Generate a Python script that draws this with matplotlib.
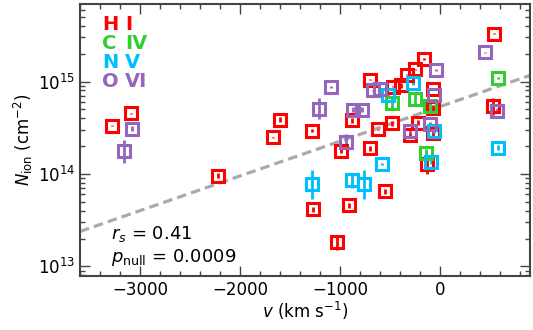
import numpy as np
import matplotlib
matplotlib.use('Agg')
import matplotlib.pyplot as plt

# velocities (km/s), column densities (cm^-2), errors (dex)
hi_v = [-3280, -3090, -2220, -1670, -1600, -1280, -1270, -1030, -990, -910,
        -880, -700, -700, -620, -550, -480, -470, -390, -330, -300,
        -250, -220, -160, -130, -70, -70, -70, 530, 540]
hi_n = [3.34e14, 4.51e14, 9.6e13, 2.48e14, 3.88e14, 2.95e14, 4.13e13, 1.82e13, 1.79e14, 4.56e13,
        3.79e14, 1.05e15, 1.89e14, 3.03e14, 6.47e13, 3.52e14, 8.83e14, 9.06e14, 1.19e15, 2.67e14,
        1.35e15, 3.6e14, 1.77e15, 1.27e14, 8.2e14, 5.2e14, 2.74e14, 5.37e14, 3.3e15]
hi_e = [0.01, 0.01, 0.03, 0.01, 0.03, 0.02, 0.03, 0.08, 0.03, 0.03,
        0.03, 0.01, 0.03, 0.01, 0.03, 0.03, 0.01, 0.03, 0.01, 0.03,
        0.01, 0.03, 0.01, 0.10, 0.01, 0.03, 0.03, 0.09, 0.01]

civ_v = [-480, -250, -100, -140, 580]
civ_n = [5.8e14, 6.4e14, 5.4e14, 1.67e14, 1.08e15]
civ_e = [0.07, 0.07, 0.04, 0.05, 0.01]

nv_v = [-1280, -880, -760, -580, -520, -270, -60, -90, 580]
nv_n = [7.7e13, 8.5e13, 7.7e13, 1.27e14, 7.2e14, 9.75e14, 2.88e14, 1.36e14, 1.93e14]
nv_e = [0.16, 0.08, 0.16, 0.01, 0.03, 0.03, 0.02, 0.03, 0.03]

ovi_v = [-3080, -3160, -1210, -1090, -940, -870, -780, -670, -600, -300,
         -100, -60, -40, 450, 570]
ovi_n = [3.1e14, 1.75e14, 5.1e14, 8.8e14, 2.24e14, 4.98e14, 4.98e14, 8.0e14, 8.4e14, 2.95e14,
         3.43e14, 7.2e14, 1.32e15, 2.06e15, 4.85e14]
ovi_e = [0.03, 0.12, 0.11, 0.01, 0.08, 0.03, 0.03, 0.01, 0.01, 0.03,
         0.03, 0.01, 0.01, 0.01, 0.03]

# fit: log N = a + b v
fit_a = 14.728
fit_b = 3.75e-4

ions = [('H', 'I', hi_v, hi_n, hi_e, '#ff0000'),
        ('C', 'IV', civ_v, civ_n, civ_e, '#33cc33'),
        ('N', 'V', nv_v, nv_n, nv_e, '#00bfff'),
        ('O', 'VI', ovi_v, ovi_n, ovi_e, '#9467bd')]

plt.rcParams['font.size'] = 12
plt.rcParams['mathtext.fontset'] = 'dejavusans'

fig = plt.figure(figsize=(5.33, 3.3), dpi=100)
ax = fig.add_axes([0.150, 0.164, 0.844, 0.824])

vline = np.array([-3600, 900])
ax.plot(vline, 10 ** (fit_a + fit_b * vline), color='#aaaaaa', ls='--',
        lw=2.3, dashes=(3, 1.6), zorder=1)

for el, st, v, n, e, c in ions:
    n = np.array(n)
    e = np.array(e)
    lo = n * (1 - 10 ** (-e))
    hi = n * (10 ** e - 1)
    ax.errorbar(v, n, yerr=[lo, hi], fmt='s', mfc='none', mec=c, ecolor=c,
                ms=8.5, mew=2.2, elinewidth=2, capsize=0, zorder=2)

ax.set_yscale('log')
ax.set_xlim(-3600, 900)
ax.set_ylim(7.9e12, 6.9e15)
ax.set_xticks([-3000, -2000, -1000, 0])
ax.xaxis.set_minor_locator(matplotlib.ticker.MultipleLocator(200))
ax.tick_params(which='both', direction='in', top=True, right=True,
               color='#444444', labelsize=12)
ax.tick_params(which='major', length=7, width=1)
ax.tick_params(which='minor', length=3.5, width=1)
for s in ax.spines.values():
    s.set_color('#444444')
    s.set_linewidth(1.5)

ax.set_xlabel(r'$v$ (km s$^{-1}$)', fontsize=12, labelpad=1)
ax.set_ylabel(r'$N_{\rm ion}$ (cm$^{-2}$)', fontsize=12, labelpad=2)

for i, (el, st, v, n, e, c) in enumerate(ions):
    y = 0.925 - i * 0.07
    ax.text(0.05, y, el, transform=ax.transAxes, color=c, fontsize=14,
            fontweight='bold', va='center', ha='left')
    ax.text(0.10, y, st, transform=ax.transAxes, color=c, fontsize=14,
            fontweight='bold', va='center', ha='left')

ax.text(0.07, 0.155, r'$r_s$ = 0.41', transform=ax.transAxes, fontsize=13,
        va='center')
ax.text(0.07, 0.068, r'$p_{\rm null}$ = 0.0009', transform=ax.transAxes,
        fontsize=13, va='center')

fig.savefig('out.png', dpi=100)
